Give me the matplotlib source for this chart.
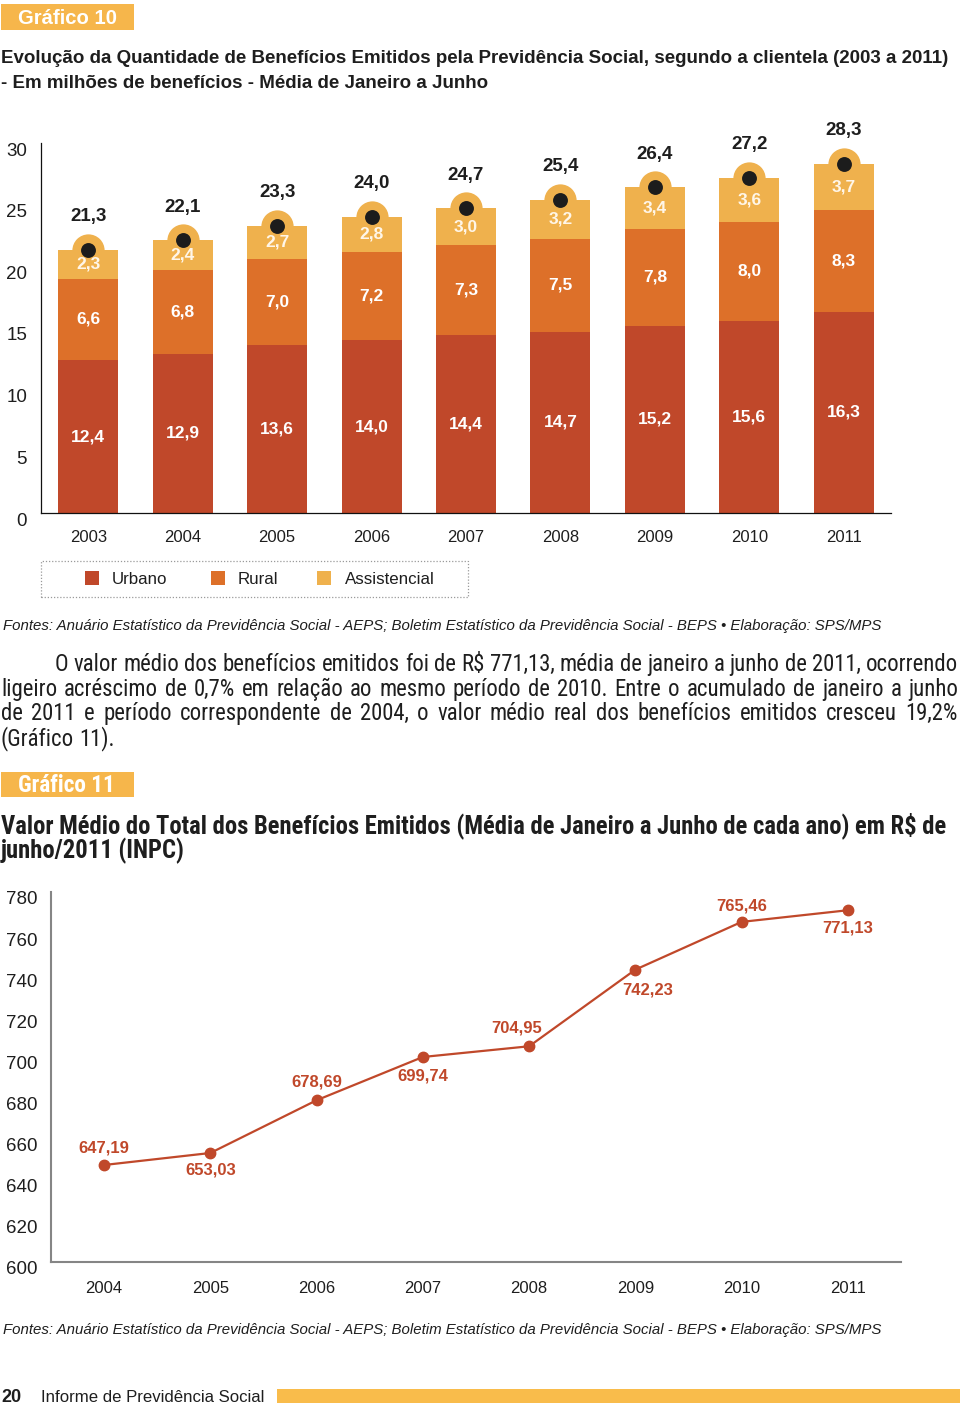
import matplotlib
matplotlib.use('Agg')
import matplotlib.pyplot as plt
from matplotlib import font_manager as fm
from matplotlib.patches import Rectangle
import matplotlib.transforms as mtransforms
import numpy as np

# ---------------- data ----------------
years_10 = ['2003', '2004', '2005', '2006', '2007', '2008', '2009', '2010', '2011']
urbano = [12.4, 12.9, 13.6, 14.0, 14.4, 14.7, 15.2, 15.6, 16.3]
rural = [6.6, 6.8, 7.0, 7.2, 7.3, 7.5, 7.8, 8.0, 8.3]
assistencial = [2.3, 2.4, 2.7, 2.8, 3.0, 3.2, 3.4, 3.6, 3.7]
series_names = ['Urbano', 'Rural', 'Assistencial']
yticks_10 = [0, 5, 10, 15, 20, 25, 30]

years_11 = ['2004', '2005', '2006', '2007', '2008', '2009', '2010', '2011']
valor_medio = [647.19, 653.03, 678.69, 699.74, 704.95, 742.23, 765.46, 771.13]
yticks_11 = [600, 620, 640, 660, 680, 700, 720, 740, 760, 780]

title10 = ['Evolução da Quantidade de Benefícios Emitidos pela Previdência Social, segundo a clientela (2003 a 2011)',
           '- Em milhões de benefícios - Média de Janeiro a Junho']
title11 = ['Valor Médio do Total dos Benefícios Emitidos (Média de Janeiro a Junho de cada ano) em R$ de',
           'junho/2011 (INPC)']
fontes = 'Fontes: Anuário Estatístico da Previdência Social - AEPS; Boletim Estatístico da Previdência Social - BEPS • Elaboração: SPS/MPS'
paragraph = ['O valor médio dos benefícios emitidos foi de R$ 771,13, média de janeiro a junho de 2011, ocorrendo',
             'ligeiro acréscimo de 0,7% em relação ao mesmo período de 2010. Entre o acumulado de janeiro a junho',
             'de 2011 e período correspondente de 2004, o valor médio real dos benefícios emitidos cresceu 19,2%',
             '(Gráfico 11).']

# ---------------- style ----------------
C_URB = '#C0482A'
C_RUR = '#DD7029'
C_ASS = '#EFB14D'
C_HEAD = '#F6B64B'
C_LINE = '#C0482A'
C_TXT = '#1E1E1E'

W, H = 960, 1407
fig = plt.figure(figsize=(W / 100, H / 100), dpi=100)
fig.patch.set_facecolor('white')

fl = fm.fontManager.ttflist
names = {f.name for f in fl}
BASE = 'Liberation Sans' if 'Liberation Sans' in names else 'DejaVu Sans'
plt.rcParams['font.family'] = [BASE, 'DejaVu Sans']


def pick_narrow():
    for n in ['Liberation Sans Narrow', 'Roboto Condensed', 'Open Sans Condensed',
              'DejaVu Sans Condensed', 'Noto Sans Condensed']:
        if n in names:
            return dict(family=[n, 'DejaVu Sans'])
    for b in ['Roboto', 'Noto Sans', 'Open Sans', 'DejaVu Sans']:
        if any(f.name == b and str(f.stretch) in ('condensed', 'semi-condensed', 'extra-condensed') for f in fl):
            return dict(family=[b, 'DejaVu Sans'], fontstretch='condensed')
    return dict(family=[BASE, 'DejaVu Sans'])


NARROW = pick_narrow()
renderer = fig.canvas.get_renderer()


def put(x, y, s, width=None, ha='left', va='baseline', **kw):
    t = fig.text(x / W, 1 - y / H, s, ha=ha, va=va, **kw)
    if width:
        bb = t.get_window_extent(renderer)
        t.set_fontsize(t.get_fontsize() * width / bb.width)
    return t


def box(x0, y0, x1, y1, **kw):
    r = Rectangle((x0 / W, 1 - y1 / H), (x1 - x0) / W, (y1 - y0) / H,
                  transform=fig.transFigure, **kw)
    fig.add_artist(r)
    return r


def fmt(v, d=1):
    return f'{v:.{d}f}'.replace('.', ',')


# ---------------- header Gráfico 10 ----------------
box(1, 4, 134, 30, facecolor=C_HEAD, edgecolor='none')
put(18, 24.5, 'Gráfico 10', width=99, color='white', fontweight='bold', fontsize=14)
t1 = put(1, 63, title10[0], width=947, color=C_TXT, fontweight='bold', fontsize=13.5)
put(1, 88, title10[1], color=C_TXT, fontweight='bold', fontsize=t1.get_fontsize())

# ---------------- bar chart ----------------
ax1 = fig.add_axes([41 / W, 1 - 513 / H, (891 - 41) / W, (513 - 143) / H])
x = np.arange(len(years_10))
u = np.array(urbano)
r_ = np.array(rural)
a = np.array(assistencial)
tot = u + r_ + a
bw = 0.635
ax1.bar(x, u, bw, color=C_URB, zorder=2)
ax1.bar(x, r_, bw, bottom=u, color=C_RUR, zorder=2)
ax1.bar(x, a, bw, bottom=u + r_, color=C_ASS, zorder=2)
ax1.scatter(x, tot, s=540, color=C_ASS, zorder=3, clip_on=False, linewidths=0)
ax1.scatter(x, tot, s=115, color='#1C1C1C', zorder=4, clip_on=False, linewidths=0)
for i in range(len(x)):
    ax1.text(x[i], u[i] / 2, fmt(u[i]), ha='center', va='center', color='white',
             fontsize=12.5, fontweight='bold', zorder=5)
    ax1.text(x[i], u[i] + r_[i] / 2, fmt(r_[i]), ha='center', va='center', color='white',
             fontsize=12.5, fontweight='bold', zorder=5)
    ax1.text(x[i], u[i] + r_[i] + a[i] / 2, fmt(a[i]), ha='center', va='center', color='#FFF6E8',
             fontsize=12.5, fontweight='bold', zorder=5)
    ax1.annotate(fmt(tot[i]), (x[i], tot[i]), xytext=(0, 24), textcoords='offset points',
                 ha='center', va='center', color=C_TXT, fontsize=13.5, fontweight='bold',
                 annotation_clip=False)
ax1.set_xlim(-0.5, len(x) - 0.5)
ax1.set_ylim(0, 30)
ax1.set_yticks(yticks_10)
ax1.set_yticklabels([str(v) for v in yticks_10], fontsize=13.5, color=C_TXT)
ax1.set_xticks(x)
ax1.set_xticklabels(years_10, fontsize=12, color=C_TXT)
ax1.tick_params(axis='both', length=0)
ax1.tick_params(axis='y', pad=10)
ax1.tick_params(axis='x', pad=12)
for s in ['top', 'right']:
    ax1.spines[s].set_visible(False)
for s in ['left', 'bottom']:
    ax1.spines[s].set_color('#111111')
    ax1.spines[s].set_linewidth(0.9)
off = mtransforms.ScaledTranslation(0, -6 / 100, fig.dpi_scale_trans)
for lab in ax1.get_yticklabels():
    lab.set_transform(lab.get_transform() + off)

# legend (manual)
box(41, 561, 468, 597, fill=False, edgecolor='#9A9A9A', linewidth=0.9, linestyle=(0, (1, 1.5)))
leg_sq_x = [85, 211, 317]
leg_tx_x = [112, 238, 345]
for name, col, sx, tx in zip(series_names, [C_URB, C_RUR, C_ASS], leg_sq_x, leg_tx_x):
    box(sx, 571, sx + 14, 585, facecolor=col, edgecolor='none')
    put(tx, 583.5, name, fontsize=12.2, color=C_TXT)

put(3, 630, fontes, width=887, style='italic', fontsize=10.5, color=C_TXT)

# ---------------- paragraph (justified) ----------------
para_left = [55, 1, 1, 1]
para_right = 958
para_base = [671, 696, 720, 745]
fs0 = 12.0
ratios = []
for i in range(3):
    t = fig.text(0, 0, paragraph[i], fontsize=fs0, **NARROW)
    wdt = t.get_window_extent(renderer).width
    t.remove()
    ratios.append((para_right - para_left[i]) / wdt)
pfs = fs0 * min(ratios)
for i, line in enumerate(paragraph):
    words = line.split(' ')
    widths = []
    for wd in words:
        t = fig.text(0, 0, wd, fontsize=pfs, **NARROW)
        widths.append(t.get_window_extent(renderer).width)
        t.remove()
    if i < 3:
        gap = (para_right - para_left[i] - sum(widths)) / (len(words) - 1)
    else:
        t = fig.text(0, 0, 'a a', fontsize=pfs, **NARROW)
        w3 = t.get_window_extent(renderer).width
        t.remove()
        t = fig.text(0, 0, 'aa', fontsize=pfs, **NARROW)
        gap = w3 - t.get_window_extent(renderer).width
        t.remove()
    xx = para_left[i]
    for wd, ww in zip(words, widths):
        put(xx, para_base[i], wd, fontsize=pfs, color=C_TXT, **NARROW)
        xx += ww + gap

# ---------------- header Gráfico 11 ----------------
box(1, 772, 134, 797, facecolor=C_HEAD, edgecolor='none')
put(18, 791.5, 'Gráfico 11', width=97, color='white', fontweight='bold', fontsize=14, **NARROW)
tt = put(1, 833, title11[0], width=945, color=C_TXT, fontweight='bold', fontsize=15, **NARROW)
put(1, 858, title11[1], color=C_TXT, fontweight='bold', fontsize=tt.get_fontsize(), **NARROW)

# ---------------- line chart ----------------
ax2 = fig.add_axes([51 / W, 1 - 1262 / H, (901 - 51) / W, (1262 - 892) / H])
x2 = np.arange(len(years_11))
ax2.plot(x2, valor_medio, color=C_LINE, lw=1.6, marker='o', markersize=7.5, zorder=3, clip_on=False)
lab_off = [(0, 12), (0, -12.5), (0, 13), (0, -13.5), (-9, 13.5), (9, -15), (0, 11.5), (0, -13)]
for i, v in enumerate(valor_medio):
    ax2.annotate(fmt(v, 2), (x2[i], v), xytext=lab_off[i], textcoords='offset points',
                 ha='center', va='center', color=C_LINE, fontsize=12, fontweight='bold',
                 annotation_clip=False)
ax2.set_xlim(-0.5, len(x2) - 0.5)
ax2.set_ylim(600, 780)
ax2.set_yticks(yticks_11)
ax2.set_yticklabels([str(v) for v in yticks_11], fontsize=13.5, color=C_TXT)
ax2.set_xticks(x2)
ax2.set_xticklabels(years_11, fontsize=12, color=C_TXT)
ax2.tick_params(axis='both', length=0)
ax2.tick_params(axis='y', pad=10)
ax2.tick_params(axis='x', pad=13.5)
for s in ['top', 'right']:
    ax2.spines[s].set_visible(False)
for s in ['left', 'bottom']:
    ax2.spines[s].set_color('#858585')
    ax2.spines[s].set_linewidth(1.5)
for lab in ax2.get_yticklabels():
    lab.set_transform(lab.get_transform() + off)

put(3, 1334, fontes, width=887, style='italic', fontsize=10.5, color=C_TXT)

# ---------------- footer ----------------
put(1, 1402, '20', fontsize=13, fontweight='bold', color=C_TXT)
put(41, 1402, 'Informe de Previdência Social', width=224, fontsize=12.5, color=C_TXT)
box(277, 1389, 960, 1403, facecolor='#F9BC4B', edgecolor='none')

fig.savefig('out.png', dpi=100, facecolor='white')
